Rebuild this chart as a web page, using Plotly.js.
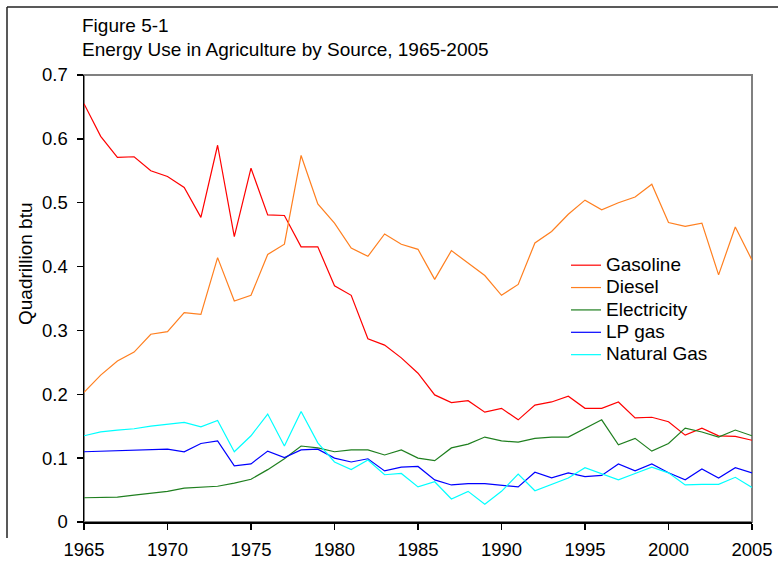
<!DOCTYPE html>
<html>
<head>
<meta charset="utf-8">
<script src="https://cdn.plot.ly/plotly-3.0.1.min.js"></script>
<style>html,body{margin:0;padding:0;background:#fff;}#chart{width:778px;height:561px;}</style>
</head>
<body>
<div id="chart"></div>
<script>
const years = [1965,1966,1967,1968,1969,1970,1971,1972,1973,1974,1975,1976,1977,1978,1979,1980,1981,1982,1983,1984,1985,1986,1987,1988,1989,1990,1991,1992,1993,1994,1995,1996,1997,1998,1999,2000,2001,2002,2003,2004,2005];
const gasoline = [0.655,0.604,0.571,0.572,0.550,0.541,0.524,0.477,0.590,0.447,0.554,0.481,0.480,0.431,0.431,0.370,0.355,0.287,0.277,0.257,0.233,0.199,0.187,0.190,0.172,0.178,0.160,0.183,0.188,0.197,0.178,0.178,0.188,0.163,0.164,0.157,0.136,0.147,0.135,0.134,0.128];
const diesel = [0.203,0.230,0.252,0.266,0.294,0.298,0.328,0.325,0.414,0.346,0.355,0.419,0.435,0.574,0.498,0.468,0.429,0.416,0.451,0.435,0.427,0.380,0.425,0.405,0.386,0.355,0.372,0.437,0.455,0.482,0.504,0.489,0.500,0.509,0.529,0.469,0.463,0.468,0.387,0.462,0.410];
const electricity = [0.038,0.039,0.039,0.042,0.045,0.048,0.053,0.055,0.056,0.061,0.067,0.082,0.099,0.119,0.116,0.110,0.113,0.113,0.105,0.113,0.100,0.096,0.116,0.122,0.133,0.127,0.125,0.131,0.133,0.133,0.147,0.160,0.121,0.131,0.111,0.123,0.147,0.141,0.133,0.144,0.135];
const lpGas = [0.110,0.111,0.112,0.112,0.114,0.114,0.110,0.123,0.127,0.088,0.091,0.111,0.101,0.113,0.114,0.100,0.094,0.099,0.080,0.086,0.087,0.066,0.058,0.060,0.060,0.058,0.055,0.078,0.069,0.077,0.071,0.073,0.091,0.080,0.091,0.077,0.066,0.083,0.069,0.085,0.077];
const naturalGas = [0.135,0.141,0.144,0.146,0.150,0.153,0.156,0.149,0.159,0.110,0.135,0.169,0.119,0.173,0.124,0.094,0.082,0.097,0.074,0.076,0.055,0.063,0.036,0.048,0.028,0.048,0.075,0.049,0.059,0.069,0.085,0.075,0.066,0.076,0.086,0.077,0.058,0.059,0.059,0.070,0.054];
const seriesNames = ["Gasoline","Diesel","Electricity","LP gas","Natural Gas"];
const seriesColors = ["#ff0000","#ff7f1f","#1f7f1f","#0000ff","#00ffff"];
const xTicks = [1965,1970,1975,1980,1985,1990,1995,2000,2005];
const yTicks = [0,0.1,0.2,0.3,0.4,0.5,0.6,0.7];

const allSeries = [gasoline, diesel, electricity, lpGas, naturalGas];
const FONT = "Liberation Sans, Arial, sans-serif";
const data = allSeries.map((vals, i) => ({
  x: years, y: vals, type: "scatter", mode: "lines",
  name: '<span style="font-size:19px">' + seriesNames[i] + '</span>',
  line: {color: seriesColors[i], width: 1.2}
}));

const L = 84, R = 752, T = 75, B = 522, W = 778, H = 561;
const px = v => (v - L) / (R - L);
const py = v => (B - v) / (B - T);

const layout = {
  width: W, height: H,
  margin: {l: L, r: W - R, t: T, b: H - B, pad: 0},
  paper_bgcolor: "#ffffff", plot_bgcolor: "#ffffff",
  font: {family: FONT, size: 18, color: "#000"},
  showlegend: true,
  legend: {x: px(566), y: py(249), xanchor: "left", yanchor: "top", bgcolor: "rgba(0,0,0,0)",
           font: {family: FONT, size: 14.9, color: "#000"}, tracegroupgap: 0, itemwidth: 30},
  xaxis: {range: [1965, 2005], tickvals: xTicks, ticktext: xTicks.map(String), showgrid: false, zeroline: false,
          showline: true, linecolor: "#000", linewidth: 1.5, ticks: "outside", ticklen: 6, tickcolor: "#000", tickwidth: 1.5,
          ticklabelstandoff: 4, tickfont: {family: FONT, size: 18.5}},
  yaxis: {range: [0, 0.7], tickvals: yTicks, ticktext: yTicks.map(v => v === 0 ? "0" : v.toFixed(1)), showgrid: false, zeroline: false,
          showline: true, linecolor: "#000", linewidth: 1.5, ticks: "outside", ticklen: 6, tickcolor: "#000", tickwidth: 1.5,
          ticklabelstandoff: 5, tickfont: {family: FONT, size: 18.5}},
  shapes: [
    {type: "rect", xref: "paper", yref: "paper", x0: 0, x1: 1, y0: 0, y1: 1, line: {color: "#808080", width: 2}, layer: "below"},
    {type: "line", xref: "paper", yref: "paper", x0: px(7), x1: px(778), y0: py(7), y1: py(7), line: {color: "#222", width: 1.5}},
    {type: "line", xref: "paper", yref: "paper", x0: px(7), x1: px(7), y0: py(7), y1: py(538), line: {color: "#222", width: 1.5}}
  ],
  annotations: [
    {text: "Figure 5-1", xref: "paper", yref: "paper", x: px(80), y: py(25), xanchor: "left", yanchor: "middle", showarrow: false, font: {family: FONT, size: 19}},
    {text: "Energy Use in Agriculture by Source, 1965-2005", xref: "paper", yref: "paper", x: px(80), y: py(49), xanchor: "left", yanchor: "middle", showarrow: false, font: {family: FONT, size: 19}},
    {text: "Quadrillion btu", xref: "paper", yref: "paper", x: px(25), y: py(264), xanchor: "center", yanchor: "middle", textangle: -90, showarrow: false, font: {family: FONT, size: 19}}
  ]
};
Plotly.newPlot("chart", data, layout, {displayModeBar: false, staticPlot: true});
</script>
</body>
</html>
